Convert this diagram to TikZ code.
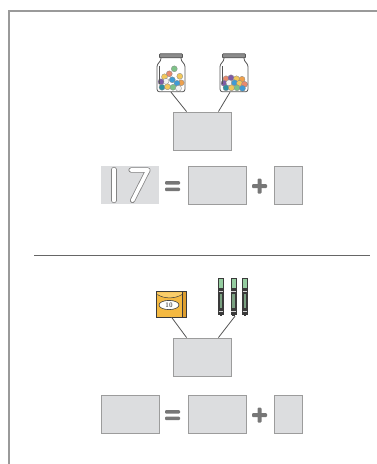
\documentclass[tikz,border=0pt]{standalone}
\usetikzlibrary{calc}
\definecolor{boxfill}{HTML}{DCDDDF}
\definecolor{boxline}{HTML}{9C9C9C}
\definecolor{opgray}{HTML}{777777}
\definecolor{framegray}{HTML}{9A9A9A}
\definecolor{inkgray}{HTML}{555555}
\definecolor{lidgray}{HTML}{8C8C8C}
\definecolor{cSalmon}{HTML}{E98A6E}
\definecolor{cYellow}{HTML}{F2C85B}
\definecolor{cBlue}{HTML}{3F9BD5}
\definecolor{cGreen}{HTML}{7DC287}
\definecolor{cPurple}{HTML}{7E5BA6}
\definecolor{cTeal}{HTML}{2E8FA0}
\definecolor{cOrange}{HTML}{EEA04C}
\definecolor{cWhite}{HTML}{F2F2F2}
\definecolor{crayonbox}{HTML}{F4B942}
\definecolor{crayonflap}{HTML}{F9CD6A}
\definecolor{crayonside}{HTML}{DE9E2E}
\definecolor{capgreen}{HTML}{95CDA0}
\definecolor{markerbody}{HTML}{3A3A3A}
\tikzset{
  answer/.style={draw=boxline, fill=boxfill, line width=0.9pt, minimum height=38pt, inner sep=0pt},
  given/.style={fill=boxfill, minimum width=58pt, minimum height=38pt, inner sep=0pt},
  iconbox/.style={inner sep=0pt},
  link/.style={draw=inkgray, line width=0.8pt},
  opbar/.style={fill=opgray, rounded corners=1pt},
  jarline/.style={draw=inkgray, line width=0.8pt},
  digit/.style={draw=opgray!90, line width=0.8pt, double=white, double distance=3.6pt, line cap=round, line join=round},
  candy/.style={draw=inkgray!70, line width=0.3pt},
  jar/.pic={
    \path[fill=white] (-10,4) -- (-10,7) -- (-14,10.5) -- (-14,38) -- (14,38) -- (14,10.5) -- (10,7) -- (10,4) -- cycle;
  },
  jarglass/.pic={
    \draw[jarline, rounded corners=2.5pt] (-10,4) -- (-10,7) -- (-14,10.5) -- (-14,38) -- (14,38) -- (14,10.5) -- (10,7) -- (10,4);
    \draw[jarline] (-11.2,12) -- (-11.2,30);
    \draw[jarline, fill=lidgray, rounded corners=0.8pt] (-11.5,0) rectangle (11.5,4);
  }
}
\newcommand\candy[3]{\fill[#3] (#1,#2) circle[radius=3pt]; \draw[candy] (#1,#2) circle[radius=3pt];}
\newcommand\marker[1]{%
  \begin{scope}[shift={(#1,0)}]
    \draw[fill=markerbody, draw=markerbody, line width=0.5pt] (-2.3,288) rectangle (2.3,314);
    \fill[markerbody] (-1.2,314) rectangle (1.2,316);
    \fill[capgreen!70!markerbody] (-1.1,294) rectangle (1.1,308);
    \draw[white!80!markerbody, line width=0.3pt] (-2.3,291) -- (2.3,291) (-2.3,311) -- (2.3,311);
    \draw[fill=capgreen, draw=markerbody, line width=0.5pt] (-2.3,278) rectangle (2.3,288);
  \end{scope}}
\begin{document}
\begin{tikzpicture}[x=1pt, y=-1pt]
\useasboundingbox (0,0) rectangle (377,464);

% outer page frame, open on the right and at the bottom
\draw[framegray, line width=2pt] (9,464) -- (9,11) -- (377,11);

% ---------- upper exercise: two jars of sweets ----------
\node[iconbox, minimum width=28pt, minimum height=38pt] (jarA) at (171,73) {};
\node[iconbox, minimum width=28pt, minimum height=38pt] (jarB) at (234,73) {};

\begin{scope}[shift={(jarA.north)}]
  \pic {jar};
  \candy{-1.7}{20}{cSalmon}
  \candy{3.3}{15}{cGreen}
  \candy{8.8}{22.5}{cYellow}
  \candy{-6.5}{23}{cYellow}
  \candy{-5}{27.5}{cWhite}
  \candy{-10}{28}{cPurple}
  \candy{1.3}{26}{cBlue}
  \candy{10.2}{29}{cOrange}
  \candy{6}{29.5}{cBlue}
  \candy{-9}{33.5}{cTeal}
  \candy{-3.5}{33}{cYellow}
  \candy{2}{33.5}{cGreen}
  \candy{7.5}{34.5}{cWhite}
  \pic {jarglass};
\end{scope}

\begin{scope}[shift={(jarB.north)}]
  \pic {jar};
  \candy{-8}{25}{cSalmon}
  \candy{-3}{24}{cPurple}
  \candy{2.5}{25}{cYellow}
  \candy{8}{25.5}{cOrange}
  \candy{-10}{29.5}{cPurple}
  \candy{-5}{29}{cWhite}
  \candy{0.5}{29}{cBlue}
  \candy{5.5}{29.5}{cYellow}
  \candy{10.5}{30.5}{cSalmon}
  \candy{-8}{34}{cTeal}
  \candy{-2.5}{34}{cYellow}
  \candy{3}{34}{cGreen}
  \candy{8.5}{34.5}{cBlue}
  \pic {jarglass};
\end{scope}

\node[answer, minimum width=58pt] (sumA) at (202,131) {};
\coordinate (jarBfoot) at ($(jarB.south)+(-4,0)$);
\draw[link] (jarA.south) -- ($(sumA.north west)+(14,0)$);
\draw[link] (jarBfoot) -- ($(sumA.north east)+(-13,0)$);

% number sentence: 17 = _ + _
\node[given] (totalA) at (130,185) {};
\draw[digit] (114,169.5) -- (114,200.5);
\draw[digit] (131,170) -- (148,170) -- (132.5,200.5);
\fill[opbar] (165,181) rectangle (180,184.5);
\fill[opbar] (165,187.5) rectangle (180,191);
\node[answer, minimum width=58pt] (partA1) at (217,185) {};
\fill[opbar] (252,184) rectangle (267,188);
\fill[opbar] (257.5,178.5) rectangle (261.5,193.5);
\node[answer, minimum width=28pt] (partA2) at (288,185) {};

% divider between the two exercises
\draw[inkgray!90, line width=1pt] (34,255) -- (370,255);

% ---------- lower exercise: box of ten crayons and markers ----------
\node[iconbox, minimum width=29pt, minimum height=25pt] (cbox) at (171.5,304.5) {};
\draw[fill=crayonbox, draw=markerbody, line width=0.7pt] (cbox.north west) rectangle (cbox.south east);
\fill[crayonflap] (157.4,292.4) -- (182,292.4) -- (182,294.5) .. controls (175,299) and (164,299) .. (157.4,294.5) -- cycle;
\draw[markerbody, line width=0.5pt] (157.4,294.5) .. controls (164,299) and (175,299) .. (182,294.5);
\fill[crayonside] (182,292.4) -- (185.6,292.4) -- (185.6,316.6) -- (182,316.6) -- cycle;
\draw[markerbody, line width=0.5pt] (182,292.4) -- (182,316.6);
\draw[markerbody, line width=0.7pt] (cbox.north west) rectangle (cbox.south east);
\draw[fill=white, draw=markerbody, line width=0.6pt] (169,305) ellipse[x radius=10pt, y radius=4.6pt];
\node[inner sep=0pt, font=\fontsize{6.5}{7}\selectfont\sffamily\bfseries, text=markerbody!80] (tenlabel) at (169,305.1) {10};

\node[iconbox, minimum width=29pt, minimum height=38pt] (mk) at (233,297) {};
\marker{221}
\marker{233.5}
\marker{245}

\node[answer, minimum width=58pt] (sumB) at (202,357) {};
\draw[link] (cbox.south) -- ($(sumB.north west)+(14,0)$);
\draw[link] ($(mk.south)+(2,0)$) -- ($(sumB.north east)+(-13,0)$);

% number sentence: _ = _ + _
\node[answer, minimum width=58pt] (totalB) at (130,414) {};
\fill[opbar] (165,410) rectangle (180,413.5);
\fill[opbar] (165,416.5) rectangle (180,420);
\node[answer, minimum width=58pt] (partB1) at (217,414) {};
\fill[opbar] (252,413) rectangle (267,417);
\fill[opbar] (257.5,407.5) rectangle (261.5,422.5);
\node[answer, minimum width=28pt] (partB2) at (288,414) {};
\end{tikzpicture}
\end{document}
